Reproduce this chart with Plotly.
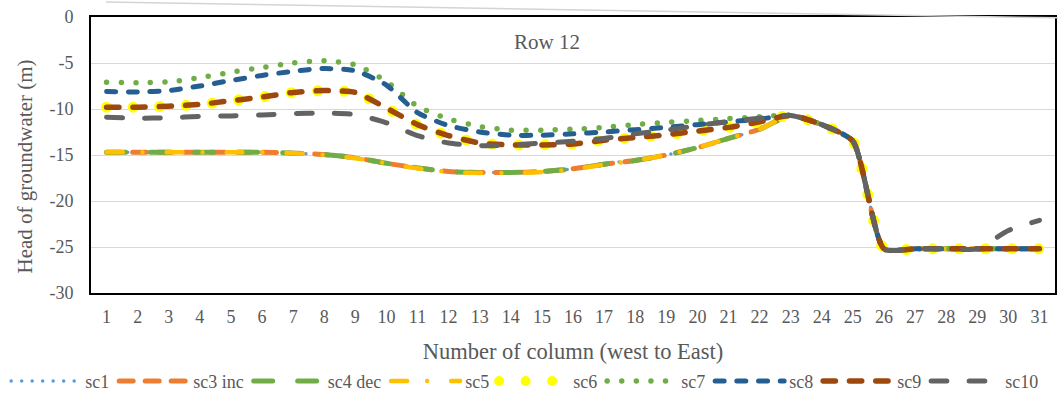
import plotly.graph_objects as go

# Column numbers along the row (west to east)
columns = list(range(1, 32))

# Head of groundwater (m) for each scenario
sc1 = [-14.7, -14.7, -14.7, -14.7, -14.7, -14.7, -14.8, -14.95, -15.25, -15.85,
       -16.4, -16.8, -16.9, -16.9, -16.8, -16.5, -16.0, -15.5, -15.0, -14.2,
       -13.2, -12.2, -10.7, -11.7, -13.5, -25.2, -25.2, -25.2, -25.2, -25.2, -25.2]
sc3_inc = [-14.7, -14.7, -14.7, -14.7, -14.7, -14.7, -14.8, -14.95, -15.3, -15.9,
           -16.4, -16.8, -16.9, -16.9, -16.8, -16.5, -16.0, -15.6, -15.0, -14.2,
           -13.2, -12.2, -10.7, -11.7, -13.5, -25.2, -25.2, -25.2, -25.2, -25.2, -25.2]
sc4_dec = [-14.7, -14.7, -14.7, -14.7, -14.7, -14.7, -14.8, -14.95, -15.3, -15.9,
           -16.4, -16.8, -16.9, -16.9, -16.8, -16.5, -16.0, -15.6, -15.0, -14.2,
           -13.2, -12.2, -10.7, -11.7, -13.5, -25.2, -25.2, -25.2, -25.2, -25.2, -25.2]
sc5 = [-14.7, -14.7, -14.7, -14.7, -14.7, -14.7, -14.8, -15.0, -15.35, -15.9,
       -16.45, -16.85, -16.95, -16.95, -16.85, -16.55, -16.05, -15.6, -15.0, -14.2,
       -13.2, -12.2, -10.7, -11.7, -13.5, -25.2, -25.2, -25.2, -25.2, -25.2, -25.2]
sc6 = [-9.8, -9.8, -9.7, -9.5, -9.1, -8.7, -8.2, -8.0, -8.2, -9.9,
       -11.7, -12.9, -13.7, -13.9, -13.9, -13.8, -13.4, -13.1, -12.8, -12.4,
       -12.0, -11.4, -10.7, -11.7, -13.5, -25.2, -25.2, -25.2, -25.2, -25.2, -25.2]
sc7 = [-7.1, -7.15, -7.05, -6.6, -6.0, -5.5, -5.0, -4.75, -5.2, -7.0,
       -9.7, -11.1, -11.9, -12.3, -12.3, -12.2, -12.0, -11.7, -11.45, -11.25,
       -11.05, -10.85, -10.7, -11.7, -13.5, -25.2, -25.2, -25.2, -25.2, -25.2, -25.2]
sc8 = [-8.1, -8.15, -8.0, -7.5, -6.9, -6.35, -5.9, -5.6, -5.85, -7.4,
       -10.4, -11.8, -12.5, -12.85, -12.85, -12.7, -12.5, -12.25, -12.0, -11.7,
       -11.4, -11.1, -10.7, -11.7, -13.5, -25.2, -25.2, -25.2, -25.2, -25.2, -25.2]
sc9 = [-9.8, -9.8, -9.7, -9.5, -9.1, -8.7, -8.2, -8.0, -8.2, -9.9,
       -11.7, -12.9, -13.7, -13.9, -13.9, -13.8, -13.4, -13.1, -12.8, -12.4,
       -12.0, -11.4, -10.7, -11.7, -13.5, -25.2, -25.2, -25.2, -25.2, -25.2, -25.2]
sc10 = [-10.9, -11.0, -10.95, -10.8, -10.75, -10.65, -10.5, -10.45, -10.6, -11.5,
        -12.9, -13.7, -14.0, -13.9, -13.7, -13.5, -13.2, -12.7, -12.3, -11.8,
        -11.35, -11.0, -10.7, -11.7, -13.5, -25.2, -25.2, -25.2, -25.2, -23.2, -22.1]

names = ["sc1", "sc3 inc", "sc4 dec", "sc5", "sc6", "sc7", "sc8", "sc9", "sc10"]
series = [sc1, sc3_inc, sc4_dec, sc5, sc6, sc7, sc8, sc9, sc10]

# y-axis ticks, labelled with a plain hyphen
y_ticks = [0, -5, -10, -15, -20, -25, -30]
y_labels = ["0", "-5", "-10", "-15", "-20", "-25", "-30"]

# (colour, width, dash pattern) per scenario
styles = [
    ("#5B9BD5", 3.5, "0px,10.5px"),
    ("#ED7D31", 5, "14px,12px"),
    ("#70AD47", 5, "19px,25px"),
    ("#FFC000", 4.5, "16px,20px,0px,24px"),
    ("#FFFF00", 11, "0px,26.5px"),
    ("#70AD47", 5.5, "0px,14.6px"),
    ("#255E91", 5, "9px,12.7px"),
    ("#9E480E", 5.5, "12.3px,14px"),
    ("#636363", 5, "15.7px,22.3px"),
]

FONT = "Liberation Serif, Times New Roman, serif"
TXT = "#595959"

fig = go.Figure()
for name, ys, (color, width, dash) in zip(names, series, styles):
    fig.add_trace(go.Scatter(
        x=columns, y=ys, name=name, mode="lines",
        line=dict(color=color, width=width, dash=dash, shape="spline", smoothing=0.6),
        hoverinfo="x+y+name",
    ))

fig.update_layout(
    width=1063, height=406,
    margin=dict(l=88, r=6, t=17, b=109),
    paper_bgcolor="white", plot_bgcolor="white",
    font=dict(family=FONT, color=TXT, size=18),
    showlegend=True,
    legend=dict(
        orientation="h", x=-0.088, xanchor="left", y=-0.387, yanchor="bottom",
        font=dict(family=FONT, size=18, color=TXT),
        itemwidth=69, bgcolor="rgba(0,0,0,0)", traceorder="normal",
    ),
    annotations=[
        dict(text="Row 12", x=0.473, y=0.911, xref="paper", yref="paper",
             xanchor="center", yanchor="middle", showarrow=False,
             font=dict(family=FONT, size=21, color=TXT)),
        dict(text="Head of groundwater (m)", x=-0.068, y=0.46, xref="paper", yref="paper",
             xanchor="center", yanchor="middle", textangle=-90, showarrow=False,
             font=dict(family=FONT, size=21, color=TXT)),
    ],
    shapes=[dict(
        type="line", xref="paper", yref="paper",
        x0=0.0155, y0=1.054, x1=1.003, y1=0.997,
        line=dict(color="#D4D4D4", width=1.5),
    )],
)

fig.update_xaxes(
    range=[0.5, 31.5], tickmode="array", tickvals=columns,
    ticktext=[str(c) for c in columns],
    showgrid=False, zeroline=False,
    showline=True, linecolor="#000000", linewidth=2, mirror=True,
    ticks="", ticklabelstandoff=6,
    tickfont=dict(family=FONT, size=18, color=TXT),
    title=dict(text="Number of column (west to East)", standoff=18,
               font=dict(family=FONT, size=22.5, color=TXT)),
)
fig.update_yaxes(
    range=[-30, 0], tickmode="array", tickvals=y_ticks, ticktext=y_labels,
    showgrid=True, gridcolor="#D9D9D9", gridwidth=1.3, zeroline=False,
    showline=True, linecolor="#000000", linewidth=2, mirror=True,
    ticks="", ticklabelstandoff=12,
    tickfont=dict(family=FONT, size=18, color=TXT),
)

# round line caps give the dotted/dashed strokes their rounded ends
post = """
var gd = document.getElementById('{plot_id}');
function roundCaps() {
  gd.querySelectorAll('path.js-line').forEach(function (p) {
    p.style.strokeLinecap = 'round';
    p.style.strokeLinejoin = 'round';
  });
}
roundCaps();
gd.on('plotly_afterplot', roundCaps);
"""

fig.write_html("out.html", post_script=post)
